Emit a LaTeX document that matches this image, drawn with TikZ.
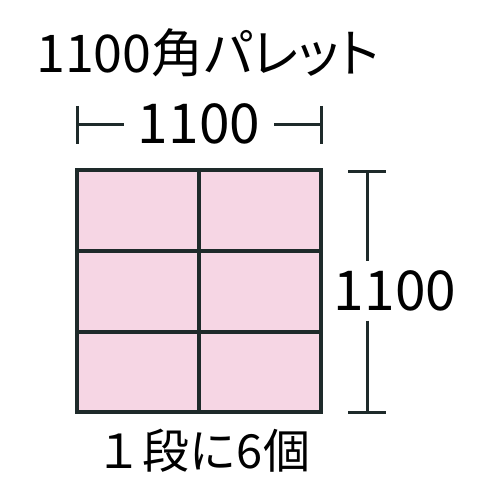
\documentclass[tikz,border=0pt]{standalone}
\usepackage{fontspec}
\setmainfont{Noto Sans CJK JP}
\newfontfamily\titlefont[RawFeature=+palt]{Noto Sans CJK JP}
\definecolor{palletpink}{RGB}{246,214,228}
\definecolor{inkline}{RGB}{30,42,42}
\begin{document}
\begin{tikzpicture}[x=1pt,y=-1pt,
    frame/.style={draw=inkline,line width=3.4pt},
    dimline/.style={draw=inkline,line width=3pt},
    label/.style={inner sep=0pt,font=\fontsize{55}{55}\selectfont}]
  \useasboundingbox (0,0) rectangle (500,500);

  % title
  \node[label,anchor=base west,font=\titlefont\fontsize{52}{52}\selectfont] (title) at (36,73) {1100角パレット};

  % pallet, 2 x 3 boxes
  \coordinate (nw) at (77,170);
  \coordinate (se) at (321,412);
  \fill[palletpink] (nw) rectangle (se);
  \draw[frame] (199,170) -- (199,412);
  \draw[frame] (77,251) -- (321,251);
  \draw[frame] (77,332) -- (321,332);
  \draw[frame] (nw) rectangle (se);

  % width
  \node[label,inner xsep=14pt] (width) at (199,124) {1100};
  \draw[dimline] (77,106) -- (77,144);
  \draw[dimline] (321,106) -- (321,144);
  \draw[dimline] (77,124) -- (width.west);
  \draw[dimline] (width.east) -- (321,124);

  % depth
  \node[label,inner ysep=9pt] (depth) at (395,291) {1100};
  \coordinate (dtop) at (367,171);
  \coordinate (dbot) at (367,412);
  \draw[dimline] (348,171) -- (386,171);
  \draw[dimline] (348,412) -- (386,412);
  \draw[dimline] (dtop) -- (dtop |- depth.north);
  \draw[dimline] (dbot |- depth.south) -- (dbot);

  % count
  \node[label,font=\fontsize{47}{47}\selectfont] (count) at (203,451) {１段に6個};
\end{tikzpicture}
\end{document}
